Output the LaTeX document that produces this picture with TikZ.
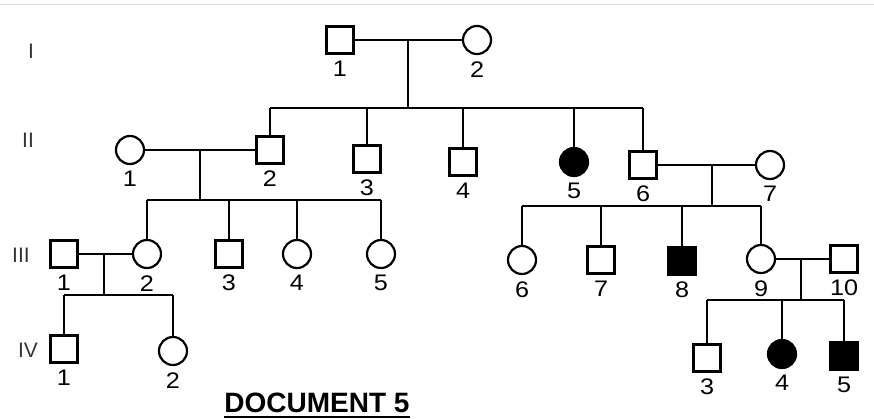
\documentclass[tikz,border=0pt]{standalone}
\usepackage{fontspec}
\setmainfont{Liberation Sans}
\newfontfamily\numfont[FakeStretch=1.12]{Liberation Sans}
\usetikzlibrary{positioning}
\usetikzlibrary{calc}

\tikzset{
  male/.style={draw, rectangle, minimum size=27pt, inner sep=0, line width=2.2pt},
  female/.style={draw, circle, minimum size=28pt, inner sep=0, line width=2.2pt},
  affected/.style={fill=black},
  num/.style={inner sep=0, font=\numfont\fontsize{22.5}{22.5}\selectfont},
  gen/.style={inner sep=0, text=black!80, font=\fontsize{21}{21}\selectfont},
  link/.style={line width=2.5pt}
}

\begin{document}
\begin{tikzpicture}[x=1pt, y=-1pt]
        \useasboundingbox (0,0) rectangle (874,418);
        \draw[black!15, line width=0.8pt] (0,4) -- (874,4);

        % generations %
        \node[gen] (gI) at (31,51) {I};
        \node[gen] (gII) at (28,140) {II};
        \node[gen] (gIII) at (21,255) {III};
        \node[gen] (gIV) at (28,350) {IV};

        % nodes %
        \node[male] (i1) at (340,40) {};
        \node[female] (i2) at (477,40) {};

        \node[female] (ii1) at (130,150) {};
        \node[male] (ii2) at (270,150) {};
        \node[male] (ii3) at (367,159) {};
        \node[male] (ii4) at (463,162) {};
        \node[female, affected] (ii5) at (574,162) {};
        \node[male] (ii6) at (643,165) {};
        \node[female] (ii7) at (770,165) {};

        \node[male] (iii1) at (64,254) {};
        \node[female] (iii2) at (147,254) {};
        \node[male] (iii3) at (229,254) {};
        \node[female] (iii4) at (297,254) {};
        \node[female] (iii5) at (381,254) {};
        \node[female] (iii6) at (522,260) {};
        \node[male] (iii7) at (601,260) {};
        \node[male, affected] (iii8) at (682,261) {};
        \node[female] (iii9) at (761,259) {};
        \node[male] (iii10) at (844,259) {};

        \node[male] (iv1) at (64,349) {};
        \node[female] (iv2) at (173,351) {};
        \node[male] (iv3) at (707,358) {};
        \node[female, affected] (iv4) at (782,354) {};
        \node[male, affected] (iv5) at (844,356) {};

        % numbers %
        \foreach \p/\n in {i1/1, i2/2, ii1/1, ii2/2, ii3/3, ii4/4, ii5/5, ii6/6, ii7/7,
                           iii1/1, iii2/2, iii3/3, iii4/4, iii5/5, iii6/6, iii7/7, iii8/8, iii9/9, iii10/10,
                           iv1/1, iv2/2, iv3/3, iv4/4, iv5/5}
          \node[num, below=6pt of \p] (\p n) {\n};

        % unions %
        \coordinate (m1) at (408,40);   \coordinate (d1) at (408,108);
        \coordinate (m2) at (200,150);  \coordinate (d2) at (200,200);
        \coordinate (m3) at (712,165);  \coordinate (d3) at (712,206);
        \coordinate (m4) at (104,254);  \coordinate (d4) at (104,295);
        \coordinate (m5) at (801,259);  \coordinate (d5) at (801,300);

        % edges %
        \draw[link] (i1) -- (i2);
        \draw[link] (m1) -- (d1);
        \draw[link] (ii2 |- d1) -- (ii6 |- d1);
        \foreach \p in {ii2, ii3, ii4, ii5, ii6}
          \draw[link] (\p |- d1) -- (\p);

        \draw[link] (ii1) -- (ii2);
        \draw[link] (m2) -- (d2);
        \draw[link] (iii2 |- d2) -- (iii5 |- d2);
        \foreach \p in {iii2, iii3, iii4, iii5}
          \draw[link] (\p |- d2) -- (\p);

        \draw[link] (ii6) -- (ii7);
        \draw[link] (m3) -- (d3);
        \draw[link] (iii6 |- d3) -- (iii9 |- d3);
        \foreach \p in {iii6, iii7, iii8, iii9}
          \draw[link] (\p |- d3) -- (\p);

        \draw[link] (iii1) -- (iii2);
        \draw[link] (m4) -- (d4);
        \draw[link] (iv1 |- d4) -- (iv2 |- d4);
        \foreach \p in {iv1, iv2}
          \draw[link] (\p |- d4) -- (\p);

        \draw[link] (iii9) -- (iii10);
        \draw[link] (m5) -- (d5);
        \draw[link] (iv3 |- d5) -- (iv5 |- d5);
        \foreach \p in {iv3, iv4, iv5}
          \draw[link] (\p |- d5) -- (\p);

        % title %
        \node[anchor=base, inner sep=0, font=\bfseries\fontsize{28}{30}\selectfont] (doc) at (317,412) {DOCUMENT 5};
        \draw[line width=2.5pt] ([yshift=-5pt]doc.base west) -- ([yshift=-5pt]doc.base east);
\end{tikzpicture}
\end{document}
